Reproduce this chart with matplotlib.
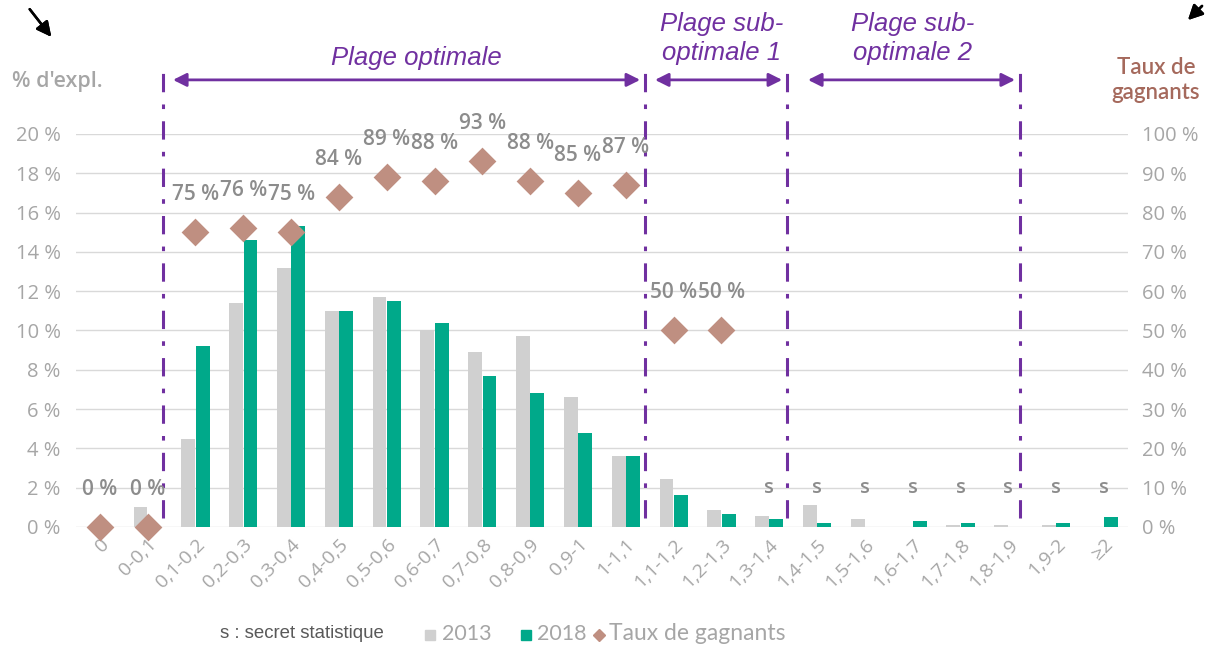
import numpy as np
import matplotlib.pyplot as plt
from matplotlib.lines import Line2D
from matplotlib.patches import Rectangle

# Données
categories = ['0', '0-0,1', '0,1-0,2', '0,2-0,3', '0,3-0,4', '0,4-0,5', '0,5-0,6',
              '0,6-0,7', '0,7-0,8', '0,8-0,9', '0,9-1', '1-1,1', '1,1-1,2', '1,2-1,3',
              '1,3-1,4', '1,4-1,5', '1,5-1,6', '1,6-1,7', '1,7-1,8', '1,8-1,9',
              '1,9-2', '≥2']
expl_2013 = [0, 1.0, 4.5, 11.4, 13.2, 11.0, 11.7, 10.0, 8.9, 9.7, 6.6, 3.6,
             2.45, 0.85, 0.58, 1.1, 0.4, 0, 0.12, 0.12, 0.12, 0]
expl_2018 = [0, 0, 9.2, 14.6, 15.3, 11.0, 11.5, 10.4, 7.7, 6.8, 4.8, 3.6,
             1.65, 0.67, 0.4, 0.22, 0, 0.32, 0.22, 0, 0.22, 0.5]
taux = [0, 0, 75, 76, 75, 84, 89, 88, 93, 88, 85, 87, 50, 50,
        None, None, None, None, None, None, None, None]
secret = [False] * 14 + [True] * 8

GRIS = '#D0D0D0'
VERT = '#00A98A'
BRUN = '#BF8F81'
VIOLET = '#7030A0'
TXT = '#A6A6A6'

x = np.arange(len(categories))
w = 0.29

fig = plt.figure(figsize=(12.05, 6.47), dpi=100)
ax = fig.add_axes([0.063, 0.1855, 0.873, 0.6075])
ax2 = ax.twinx()

ax.bar(x - 0.15, expl_2013, w, color=GRIS, zorder=2)
ax.bar(x + 0.15, expl_2018, w, color=VERT, zorder=2)

ax.set_xlim(-0.5, len(categories) - 0.5)
ax.set_ylim(0, 20)
ax.set_yticks(range(0, 21, 2))
ax.set_yticklabels([f'{v} %' for v in range(0, 21, 2)])
ax.grid(axis='y', color='#D9D9D9', lw=1, zorder=0)
ax.set_xticks(x)
ax.set_xticklabels(categories, rotation=45, ha='right', rotation_mode='anchor')
for s in ax.spines.values():
    s.set_visible(False)
for s in ax2.spines.values():
    s.set_visible(False)
ax.tick_params(axis='y', length=0, colors=TXT, labelsize=14.5, pad=11)
ax.tick_params(axis='x', length=0, colors=TXT, labelsize=14, pad=6)
for lab in ax.get_yticklabels() + ax.get_xticklabels():
    lab.set_family('Open Sans')

# Taux de gagnants (axe de droite)
tx = [i for i, t in enumerate(taux) if t is not None]
ty = [t for t in taux if t is not None]
ax2.scatter(tx, ty, marker='D', s=200, color=BRUN, zorder=5, clip_on=False,
            linewidths=0)
ax2.set_ylim(0, 100)
ax2.set_yticks(range(0, 101, 10))
ax2.set_yticklabels([f'{v} %' for v in range(0, 101, 10)])
ax2.tick_params(length=0, colors=TXT, labelsize=14.5, pad=10)
for lab in ax2.get_yticklabels():
    lab.set_family('Open Sans')

for i, t in zip(tx, ty):
    ax2.annotate(f'{t} %', (i, t), xytext=(0, 27), textcoords='offset points',
                 ha='center', va='center', fontsize=15, color='#8C8C8C',
                 family='Open Sans', fontweight='semibold')
for i, s in enumerate(secret):
    if s:
        ax.text(i, 2.0, 's', ha='center', va='center', fontsize=14.5,
                color='#8C8C8C', family='Open Sans', fontweight='semibold')

# Plages (lignes et flèches)
for xv in [1.32, 11.40, 14.37, 19.25]:
    ax.plot([xv, xv], [0.45, 23.2], color=VIOLET, lw=2.2, ls=(0, (6, 4, 1.5, 4)),
            clip_on=False, zorder=6)
for x0, x1 in [(1.53, 11.30), (11.61, 14.27), (14.81, 19.14)]:
    ax.annotate('', xy=(x1, 22.75), xytext=(x0, 22.75), annotation_clip=False,
                arrowprops=dict(arrowstyle='<|-|>', color=VIOLET, lw=2,
                                mutation_scale=20, shrinkA=0, shrinkB=0))
ax.text(6.63, 23.85, 'Plage optimale', ha='center', va='center', fontsize=18.5,
        style='italic', color=VIOLET, family='Liberation Sans')
ax.text(13.0, 24.85, 'Plage sub-\noptimale 1', ha='center', va='center',
        fontsize=18.5, style='italic', color=VIOLET, family='Liberation Sans',
        linespacing=1.3)
ax.text(17.0, 24.85, 'Plage sub-\noptimale 2', ha='center', va='center',
        fontsize=18.5, style='italic', color=VIOLET, family='Liberation Sans',
        linespacing=1.3)

# Titres des axes
fig.text(12 / 1205, 1 - 82 / 647, "% d'expl.", fontsize=15.5, color=TXT,
         family='Open Sans', fontweight='semibold', va='center')
fig.text(1156 / 1205, 1 - 80 / 647, 'Taux de\ngagnants', fontsize=16,
         color='#A5695C', family='Lato', fontweight='semibold', ha='center',
         va='center', linespacing=1.2)

# Flèches noires des coins
fig.add_artist(plt.annotate('', xy=(53 / 1205, 1 - 39 / 647), xytext=(28 / 1205, 1 - 7 / 647),
                            xycoords='figure fraction', textcoords='figure fraction',
                            arrowprops=dict(arrowstyle='-|>', color='black', lw=1.8,
                                            mutation_scale=22)))
fig.add_artist(plt.annotate('', xy=(1186 / 1205, 1 - 22 / 647), xytext=(1204 / 1205, 1 - 4 / 647),
                            xycoords='figure fraction', textcoords='figure fraction',
                            arrowprops=dict(arrowstyle='-|>', color='black', lw=1.8,
                                            mutation_scale=22)))

# Légende (construite à la main)
W, H = 1205, 647
ly = 1 - 634 / H
fig.text(220 / W, ly, 's : secret statistique', fontsize=13.4,
         color='#595959', family='Liberation Sans', va='center')
fig.add_artist(Rectangle((425 / W, 1 - 640 / H), 10 / W, 10 / H, color=GRIS,
                         transform=fig.transFigure))
fig.text(442 / W, ly, '2013', fontsize=15.5, color=TXT, family='Lato', va='center')
fig.add_artist(Rectangle((521 / W, 1 - 640 / H), 10 / W, 10 / H, color=VERT,
                         transform=fig.transFigure))
fig.text(537 / W, ly, '2018', fontsize=15.5, color=TXT, family='Lato', va='center')
fig.add_artist(Line2D([599 / W], [1 - 635 / H], marker='D', color=BRUN,
                      markersize=6, transform=fig.transFigure))
fig.text(609 / W, ly, 'Taux de gagnants', fontsize=16.5, color=TXT,
         family='Lato', va='center')

fig.savefig('out.png', dpi=100)
